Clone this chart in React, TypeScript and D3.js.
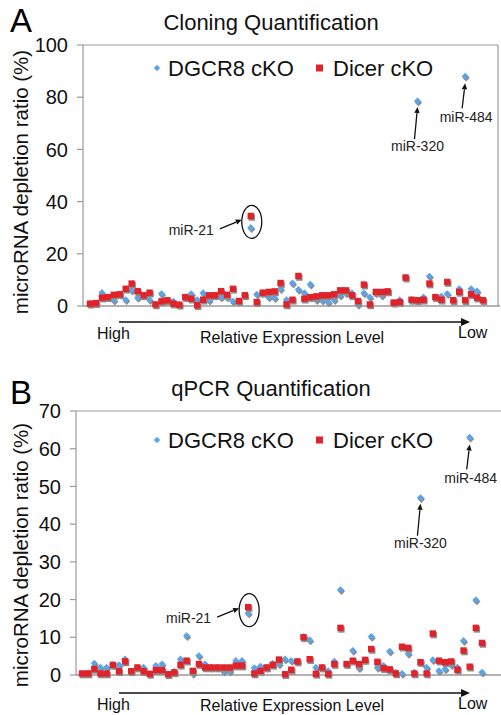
import React from "react";
import * as d3 from "d3";

// ---------- DATA ----------
// Panel A: Cloning quantification (ranked by relative expression, high -> low)
const cloningDGCR8 = [
  0.9, 1.1, 5.1, 3.4, 2.2, 4.5, 2.4, 6.0, 3.2, 4.1,
  2.4, 0.6, 4.7, 2.2, 1.8, 0.5, 3.4, 4.7, 2.4, 5.0,
  2.2, 4.1, 3.4, 3.4, 1.8, 1.9, 4.1, 30, 4.5, 5.1,
  3.4, 3.1, 6.6, 2.4, 8.8, 6.3, 5.0, 8.3, 2.4, 2.2,
  1.5, 2.4, 4.1, 5.0, 5.0, 0.6, 5.0, 3.4, 5.0, 4.1,
  5.6, 1.3, 2.4, 10.9, 2.4, 78.5, 3.4, 11.4, 3.4, 3.7,
  4.7, 2.2, 6.6, 88, 6.6, 5.7, 2.2,
];
const cloningDicer = [
  0.9, 1.1, 3.2, 3.4, 4.3, 4.5, 6.6, 8.6, 5.7, 4.1,
  5.1, 0.6, 1.8, 2.2, 0.9, 0.5, 3.4, 2.8, 0.3, 2.4,
  4.1, 4.1, 5.7, 4.3, 6.6, 1.9, 4.1, 34.5, 1.5, 5.1,
  5.4, 5.6, 8.8, 0.6, 2.4, 11.5, 2.8, 3.4, 3.7, 4.1,
  4.1, 4.5, 6.0, 6.0, 4.1, 1.9, 8.2, 0.6, 5.4, 5.4,
  5.6, 1.3, 1.5, 10.9, 2.4, 2.2, 2.4, 8.6, 3.4, 2.4,
  9.2, 2.2, 5.4, 2.2, 4.5, 3.2, 2.2,
];
// Panel B: qPCR quantification
const qpcrDGCR8 = [
  0.4, 0.6, 3.1, 2.0, 2.0, 2.7, 2.7, 4.2, 1.0, 2.0,
  2.0, 0.3, 2.5, 2.9, 0.2, 1.0, 4.2, 10.4, 0.4, 5.1,
  2.9, 2.0, 2.0, 1.0, 1.0, 3.8, 3.8, 16.4, 1.9, 2.3,
  2.0, 3.1, 2.9, 4.2, 3.8, 3.6, 10.2, 9.3, 2.0, 2.0,
  1.1, 3.6, 22.6, 2.9, 6.5, 1.9, 4.0, 10.2, 2.0, 2.5,
  6.3, 0.7, 0.4, 5.7, 0.7, 47, 2.0, 4.0, 1.1, 1.6,
  2.7, 2.0, 9.1, 63, 19.9, 0.7,
];
const qpcrDicer = [
  0.4, 0.4, 1.6, 0.4, 0.4, 2.7, 1.0, 3.6, 1.0, 2.0,
  1.0, 0.3, 1.3, 1.3, 0.2, 0.7, 2.7, 3.8, 1.1, 2.9,
  2.0, 2.0, 2.0, 2.0, 2.0, 2.5, 2.5, 18.0, 0.4, 1.1,
  2.0, 2.7, 4.1, 0.2, 1.4, 3.6, 10.0, 4.2, 0.3, 2.0,
  0.3, 2.9, 12.5, 2.9, 3.8, 2.9, 4.0, 6.9, 3.5, 1.8,
  1.5, 0.4, 7.5, 7.2, 0.4, 3.4, 0.4, 11.0, 3.8, 3.4,
  3.6, 1.4, 6.5, 2.2, 12.5, 8.5,
];
const seriesNames = ["DGCR8 cKO", "Dicer cKO"];
const titles = ["Cloning Quantification", "qPCR Quantification"];
const panelLetters = ["A", "B"];
const yTitle = "microRNA depletion ratio (%)";
const xLabels = ["High", "Relative Expression Level", "Low"];
const yMaxA = 100;
const yMaxB = 70;
// annotated miRNAs: [name, index]
const annotA: [string, number][] = [["miR-21", 27], ["miR-320", 55], ["miR-484", 63]];
const annotB: [string, number][] = [["miR-21", 27], ["miR-320", 55], ["miR-484", 63]];

const BLUE = "#5DA4E6";
const RED = "#E0222B";
const FONT = "'Liberation Sans', Arial, Helvetica, sans-serif";

type PanelProps = {
  blue: number[];
  red: number[];
  yMax: number;
  tickStep: number;
  top: number;
  bottom: number;
  axisX: number;
  xStart: number;
  xEnd: number;
  rightBorder: number | null;
  lineEnd: number;
  title: string;
  titleY: number;
  letter: string;
  letterY: number;
  legendY: number;
  yTitleY: number;
  arrowY: number;
  labelY: number;
  midLabelDy: number;
  annots: [string, number][];
};

function Arrow({ x1, y1, x2, y2, head = 6 }: { x1: number; y1: number; x2: number; y2: number; head?: number }) {
  const ang = Math.atan2(y2 - y1, x2 - x1);
  const hw = head * 0.45;
  const bx = x2 - head * Math.cos(ang);
  const by = y2 - head * Math.sin(ang);
  const p1 = [bx + hw * Math.sin(ang), by - hw * Math.cos(ang)];
  const p2 = [bx - hw * Math.sin(ang), by + hw * Math.cos(ang)];
  return (
    <g>
      <line x1={x1} y1={y1} x2={bx} y2={by} stroke="#111" strokeWidth={1.3} />
      <path d={`M${x2},${y2}L${p1[0]},${p1[1]}L${p2[0]},${p2[1]}Z`} fill="#111" />
    </g>
  );
}

function Diamond({ cx, cy, r, fill }: { cx: number; cy: number; r: number; fill: string }) {
  return <path d={`M${cx},${cy - r}L${cx + r},${cy}L${cx},${cy + r}L${cx - r},${cy}Z`} fill={fill} />;
}

function Panel(p: PanelProps) {
  const x = d3.scaleLinear().domain([0, p.red.length - 1]).range([p.xStart, p.xEnd]);
  const y = d3.scaleLinear().domain([0, p.yMax]).range([p.bottom, p.top]);
  const ticks = d3.range(0, p.yMax + 0.001, p.tickStep);
  const sq = 6.4;
  const dr = 3.6;
  const [a21, a320, a484] = p.annots;
  const x21 = x(a21[1]);
  const y21 = (y(p.red[a21[1]]) + y(p.blue[a21[1]])) / 2;
  const x320 = x(a320[1]);
  const y320 = y(p.blue[a320[1]]);
  const x484 = x(a484[1]);
  const y484 = y(p.blue[a484[1]]);
  return (
    <g fontFamily={FONT}>
      <text x={10} y={p.letterY} fontSize={33} fill="#000">{p.letter}</text>
      <text x={271} y={p.titleY} fontSize={22} textAnchor="middle" fill="#111">{p.title}</text>
      {/* frame */}
      <line x1={p.axisX} y1={p.top} x2={p.axisX} y2={p.bottom} stroke="#9a9a9a" strokeWidth={1.2} />
      <line x1={p.axisX} y1={p.top} x2={p.rightBorder ?? p.lineEnd} y2={p.top} stroke="#9a9a9a" strokeWidth={1.2} />
      {p.rightBorder !== null && (
        <line x1={p.rightBorder} y1={p.top} x2={p.rightBorder} y2={p.bottom} stroke="#9a9a9a" strokeWidth={1.2} />
      )}
      <line x1={p.axisX} y1={p.bottom} x2={p.lineEnd} y2={p.bottom} stroke="#9a9a9a" strokeWidth={1.4} />
      {ticks.map((t) => (
        <g key={t}>
          <line x1={p.axisX - 6} x2={p.axisX} y1={y(t)} y2={y(t)} stroke="#9a9a9a" strokeWidth={1.2} />
          <text x={p.axisX - 15} y={y(t)} dy="0.36em" fontSize={20} textAnchor="end" fill="#111">{t}</text>
        </g>
      ))}
      <text
        transform={`translate(21,${p.yTitleY}) rotate(-90)`}
        fontSize={20.5}
        textAnchor="middle"
        dy="0.36em"
        fill="#111"
      >
        {yTitle}
      </text>
      {/* legend */}
      <Diamond cx={157} cy={p.legendY} r={3.2} fill={BLUE} />
      <text x={168} y={p.legendY} dy="0.36em" fontSize={22} fill="#111">{seriesNames[0]}</text>
      <rect x={316} y={p.legendY - 3.5} width={7} height={7} fill={RED} />
      <text x={333} y={p.legendY} dy="0.36em" fontSize={22} fill="#111">{seriesNames[1]}</text>
      {/* points: shadows then markers */}
      {p.blue.map((v, i) => (
        <Diamond key={"bs" + i} cx={x(i) + 1} cy={y(v) + 1.6} r={dr} fill="#8c8c8c" />
      ))}
      {p.blue.map((v, i) => (
        <Diamond key={"b" + i} cx={x(i)} cy={y(v)} r={dr} fill={BLUE} />
      ))}
      {p.red.map((v, i) => (
        <rect key={"rs" + i} x={x(i) - sq / 2 + 1} y={y(v) - sq / 2 + 1.6} width={sq} height={sq} fill="#8c8c8c" />
      ))}
      {p.red.map((v, i) => (
        <rect key={"r" + i} x={x(i) - sq / 2} y={y(v) - sq / 2} width={sq} height={sq} fill={RED} />
      ))}
      {/* annotations */}
      <ellipse cx={x21 + 1} cy={y21} rx={10} ry={16.5} fill="none" stroke="#111" strokeWidth={1.3} />
      <Arrow x1={x21 - 31} y1={y21 + 7} x2={x21 - 9} y2={y21 - 2} />
      <text x={x21 - 37} y={y21 + 13} fontSize={14} textAnchor="end" fill="#222">{a21[0]}</text>
      <Arrow x1={x320 - 3} y1={y320 + 38} x2={x320} y2={y320 + 6} />
      <text x={x320} y={y320 + 50} fontSize={14} textAnchor="middle" fill="#222">{a320[0]}</text>
      <Arrow x1={x484 - 3} y1={y484 + 32} x2={x484} y2={y484 + 7} />
      <text x={x484 + 1} y={y484 + 46} fontSize={14} textAnchor="middle" fill="#222">{a484[0]}</text>
      {/* x label */}
      <Arrow x1={119} y1={p.arrowY} x2={470} y2={p.arrowY} head={9} />
      <text x={97} y={p.labelY} fontSize={16} fill="#111">{xLabels[0]}</text>
      <text x={200} y={p.labelY + p.midLabelDy} fontSize={16} fill="#111">{xLabels[1]}</text>
      <text x={458} y={p.labelY - 1} fontSize={16} fill="#111">{xLabels[2]}</text>
    </g>
  );
}

export default function App() {
  return (
    <svg
      width={501}
      height={715}
      style={{ position: "absolute", left: 0, top: 0, background: "#fff" }}
    >
      <rect width={501} height={715} fill="#fff" />
      <Panel
        blue={cloningDGCR8}
        red={cloningDicer}
        yMax={yMaxA}
        tickStep={20}
        top={45}
        bottom={306}
        axisX={83}
        xStart={90}
        xEnd={483}
        rightBorder={498}
        lineEnd={500}
        title={titles[0]}
        titleY={30}
        letter={panelLetters[0]}
        letterY={32}
        legendY={68}
        yTitleY={182}
        arrowY={322}
        labelY={339}
        midLabelDy={4}
        annots={annotA}
      />
      <Panel
        blue={qpcrDGCR8}
        red={qpcrDicer}
        yMax={yMaxB}
        tickStep={10}
        top={411}
        bottom={675}
        axisX={76}
        xStart={82}
        xEnd={482}
        rightBorder={null}
        lineEnd={501}
        title={titles[1]}
        titleY={396}
        letter={panelLetters[1]}
        letterY={404}
        legendY={440}
        yTitleY={555}
        arrowY={693}
        labelY={710}
        midLabelDy={1}
        annots={annotB}
      />
    </svg>
  );
}
